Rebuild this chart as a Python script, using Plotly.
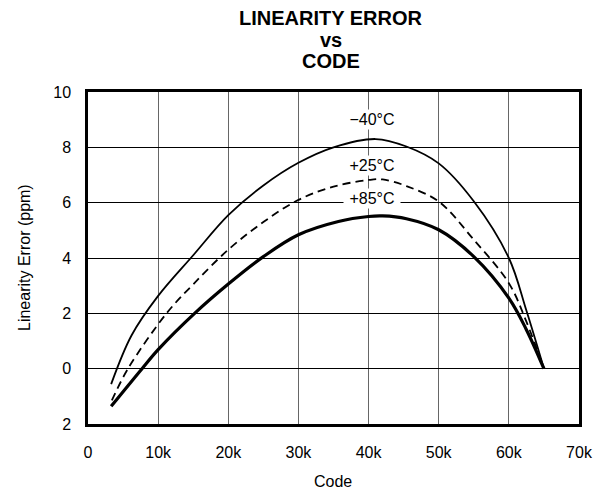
import plotly.graph_objects as go

# Data: code in thousands, linearity error in ppm
code_m40 = [3.3, 6.2, 10, 15, 20, 25, 30, 35, 41, 45.4, 50, 55, 60, 62.5, 65]
err_m40 = [-0.56, 1.2, 2.63, 4.1, 5.55, 6.62, 7.44, 8.0, 8.3, 8.03, 7.42, 6.05, 4.0, 2.1, 0.0]

code_p25 = [3.4, 5.7, 11.2, 15, 20, 25, 30, 35, 40, 42, 45.4, 50, 55, 60, 62.5, 65]
err_p25 = [-1.15, 0.0, 2.0, 3.05, 4.3, 5.3, 6.1, 6.58, 6.82, 6.84, 6.6, 6.04, 4.66, 3.09, 1.7, 0.0]

code_p85 = [3.3, 7.7, 10, 15.2, 20, 25, 30, 35.7, 40, 42, 45.4, 50, 55, 60, 62.5, 65]
err_p85 = [-1.36, 0.0, 0.69, 2.0, 3.06, 4.05, 4.84, 5.32, 5.5, 5.52, 5.42, 5.02, 4.05, 2.55, 1.41, 0.0]

x_ticks = [0, 10000, 20000, 30000, 40000, 50000, 60000, 70000]
x_tick_text = ["0", "10k", "20k", "30k", "40k", "50k", "60k", "70k"]
y_ticks = [10, 8, 6, 4, 2, 0, -2]
y_tick_text = ["10", "8", "6", "4", "2", "0", "2"]

labels = ["\u221240\u00b0C", "+25\u00b0C", "+85\u00b0C"]
label_code = [40500, 40500, 40500]
label_err = [9.0, 7.36, 6.16]

title_lines = ["LINEARITY ERROR", "vs", "CODE"]

FONT = "Liberation Sans, Arial, sans-serif"
W, H = 603, 494
L, R, T, B = 88, 24, 92, 70
plot_w = W - L - R
plot_h = H - T - B


def px_to_paper_y(py):
    return 1 + (T - py) / plot_h


def px_to_paper_x(px):
    return (px - L) / plot_w


fig = go.Figure()
fig.add_trace(go.Scatter(x=[c * 1000 for c in code_m40], y=err_m40, mode="lines",
                         line=dict(color="black", width=1.8, shape="spline", smoothing=1.0)))
fig.add_trace(go.Scatter(x=[c * 1000 for c in code_p25], y=err_p25, mode="lines",
                         line=dict(color="black", width=1.8, dash="8px,5px", shape="spline", smoothing=1.0)))
fig.add_trace(go.Scatter(x=[c * 1000 for c in code_p85], y=err_p85, mode="lines",
                         line=dict(color="black", width=3.2, shape="spline", smoothing=1.0)))

for t, xc, yc in zip(labels, label_code, label_err):
    fig.add_annotation(x=xc, y=yc, text="\u00a0" + t + "\u00a0", showarrow=False, bgcolor="white",
                       font=dict(family=FONT, size=16, color="black"), borderpad=1)

for t, py in zip(title_lines, [18.0, 39.5, 61.0]):
    fig.add_annotation(x=px_to_paper_x(331), xref="paper", y=px_to_paper_y(py), yref="paper",
                       yanchor="middle", text="<b>" + t + "</b>", showarrow=False,
                       font=dict(family=FONT, size=20, color="black"))

fig.add_annotation(x=px_to_paper_x(333), xref="paper", y=px_to_paper_y(481), yref="paper",
                   yanchor="middle", text="Code", showarrow=False,
                   font=dict(family=FONT, size=16, color="black"))
fig.add_annotation(x=px_to_paper_x(24), xref="paper", y=px_to_paper_y(258), yref="paper",
                   xanchor="center", yanchor="middle", textangle=-90, text="Linearity Error (ppm)",
                   showarrow=False, font=dict(family=FONT, size=16, color="black"))

fig.update_layout(
    width=W, height=H,
    margin=dict(l=L, r=R, t=T, b=B),
    plot_bgcolor="white", paper_bgcolor="white",
    showlegend=False,
    font=dict(family=FONT, size=16, color="black"),
    xaxis=dict(range=[0, 70000], tickvals=x_ticks, ticktext=x_tick_text,
               showgrid=True, gridcolor="#666666", gridwidth=1.2, zeroline=False,
               showline=True, linecolor="black", linewidth=2.5, mirror=True,
               ticks="", ticklabelstandoff=12, automargin=False),
    yaxis=dict(range=[-2, 10], tickvals=y_ticks, ticktext=y_tick_text,
               showgrid=True, gridcolor="black", gridwidth=1, zeroline=False,
               showline=True, linecolor="black", linewidth=2.5, mirror=True,
               ticks="", ticklabelstandoff=11, automargin=False),
)

fig.write_html("out.html", config={"displayModeBar": False},
               post_script="document.body.style.margin='0';")
